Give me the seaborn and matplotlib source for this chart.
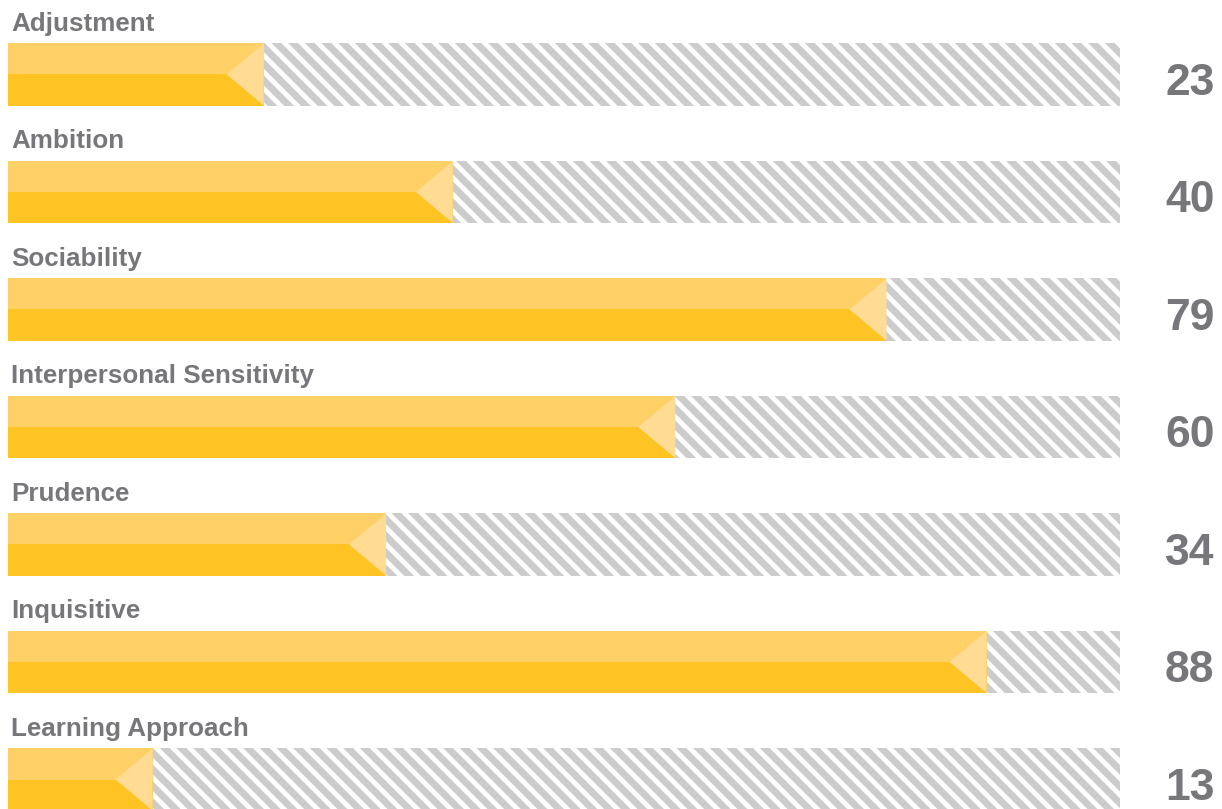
import matplotlib
matplotlib.use("Agg")
import matplotlib.pyplot as plt
from matplotlib.patches import Polygon
import seaborn as sns
import pandas as pd

categories = ["Adjustment", "Ambition", "Sociability", "Interpersonal Sensitivity",
              "Prudence", "Inquisitive", "Learning Approach"]
scores = [23, 40, 79, 60, 34, 88, 13]
max_score = 100

sns.set_theme(style="white")
plt.rcParams['font.family'] = ['Liberation Sans', 'DejaVu Sans']
plt.rcParams['hatch.color'] = '#CCCCCC'
plt.rcParams['hatch.linewidth'] = 5.0

W, H = 1222, 809
fig = plt.figure(figsize=(W / 100, H / 100), dpi=100)
ax = fig.add_axes([8 / W, 0, (1120 - 8) / W, 1])

df = pd.DataFrame({"cat": categories, "score": scores, "full": [max_score] * len(scores)})
bar_h = 0.528
tri_w = 3.33

# background hatched track
sns.barplot(data=df, x="full", y="cat", orient="h", width=bar_h, color="white",
            edgecolor="#CCCCCC", linewidth=0, hatch="\\\\", ax=ax, saturation=1)
# value bars (dark lower part)
sns.barplot(data=df, x="score", y="cat", orient="h", width=bar_h, color="#FFC423",
            linewidth=0, ax=ax, saturation=1)

text_col = "#77777B"
for i, (c, v) in enumerate(zip(categories, scores)):
    # lighter upper half
    ax.barh(i - bar_h / 4, v, height=bar_h / 2, color="#FFD066", linewidth=0)
    # arrow-like light triangle at the end
    tri = Polygon([(v - tri_w, i), (v, i - bar_h / 2), (v, i + bar_h / 2)],
                  closed=True, facecolor="#FFDB94", edgecolor="none")
    ax.add_patch(tri)
    ax.text(0.3, i - bar_h / 2 - 0.11, c, ha="left", va="baseline",
            fontsize=18.7, fontweight="bold", color=text_col)
    ax.text(108.5, i + 0.174, str(v), ha="right", va="baseline",
            fontsize=32, fontweight="bold", color=text_col, clip_on=False)

ax.set_xlim(0, max_score)
ax.set_ylim((H - 74.5) / 117.5, -74.5 / 117.5)
ax.axis("off")

fig.savefig("out.png", dpi=100)
